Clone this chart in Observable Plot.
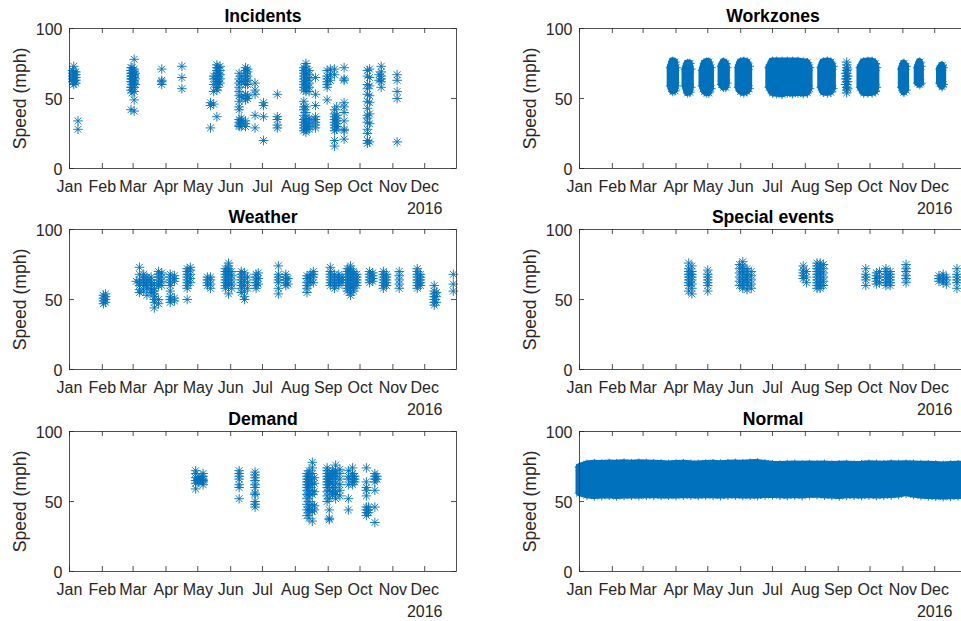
<!DOCTYPE html>
<html><head><meta charset="utf-8">
<script src="https://cdn.jsdelivr.net/npm/d3@7"></script>
<script src="https://cdn.jsdelivr.net/npm/@observablehq/plot@0.6"></script>
<style>
html,body{margin:0;padding:0;background:#fff;overflow:hidden}
#fig{position:relative;width:961px;height:621px;overflow:hidden;background:#fff}
#fig svg{position:absolute}
</style></head><body><div id="fig"></div>
<script>
// ---------- axis content ----------
const monthTicks = ["2016-01-01","2016-02-01","2016-03-01","2016-04-01","2016-05-01","2016-06-01","2016-07-01","2016-08-01","2016-09-01","2016-10-01","2016-11-01","2016-12-01"];
const monthLabels = ["Jan","Feb","Mar","Apr","May","Jun","Jul","Aug","Sep","Oct","Nov","Dec"];
const yTicks = [0, 50, 100];
const xDomain = ["2016-01-01", "2016-12-31"];
const yearLabel = "2016";
const yLabel = "Speed (mph)";
const panelTitles = ["Incidents", "Workzones", "Weather", "Special events", "Demand", "Normal"];

// ---------- Incidents (date columns with speeds) ----------
const incidentDates = [
 "2016-01-04","2016-01-05","2016-01-07","2016-01-09",
 "2016-02-28","2016-02-29","2016-03-02","2016-03-03",
 "2016-03-28","2016-04-16",
 "2016-05-13","2016-05-16","2016-05-19","2016-05-20","2016-05-22",
 "2016-06-09","2016-06-11","2016-06-15","2016-06-17","2016-06-24",
 "2016-07-02","2016-07-15",
 "2016-08-09","2016-08-11","2016-08-14","2016-08-20",
 "2016-08-31","2016-09-03","2016-09-07","2016-09-09","2016-09-16",
 "2016-10-08","2016-10-10","2016-10-19","2016-10-21","2016-11-05"];
const incidentSpeeds = [
 [62,64,66,68,70],
 [60,62,63,65,67,69,73],
 [61,63,65,67,69],
 [34,28],
 [56,58,62,64,66,68,70,72,42],
 [54,58,60,62,64,66,68,70,72],
 [78,55,49,41,58,61,63,65,67,69,71],
 [60,64,68],
 [71,63,62,60],
 [73,65,57],
 [29,47,45],
 [46,55,60,64,66],
 [37,56,58,60,62,64,66,68,70,72,74],
 [58,60,62,64,66,68,70,72],
 [61,64,67,70,73],
 [68,64,61,58,55,52,48,44,42,35,33,31,30],
 [30,32,34,36,51,62,66],
 [49,51,53,30,32,34,60,62,64,66,68,70,72],
 [60,63,66,69,71,50,52],
 [61,56,53,38,29],
 [47,45,37,20],
 [53,37,35,31,29],
 [27,29,31,33,35,38,42,44,48,56,58,60,62,64,66,68,70,72],
 [26,28,30,32,34,36,40,44,55,57,59,61,63,65,67,69,71,73,75],
 [28,30,32,34,36,55,58,61,64,67,70],
 [29,31,33,35,37,45,53,65],
 [70,66,64,62,60,58,49],
 [71,67,63],
 [16,20,27,29,31,33,35,37,39,42,71,67],
 [28,30,32,34,36,38,44],
 [72,64,63,47,44,40,34,28,27,21],
 [70,66,60,57,53,48,43,38,36,33,28,25,20,18],
 [71,65,59,52,47,39,32,19],
 [67,63],
 [73,69,66,64,62,58],
 [67,63,55,50,19]];

// ---------- Workzones: dense clusters (date, low, high, cluster) ----------
const workzoneDates = [
 "2016-03-27","2016-03-29","2016-03-31","2016-04-01",
 "2016-04-10","2016-04-12","2016-04-14","2016-04-15",
 "2016-04-26","2016-04-28","2016-04-30","2016-05-02","2016-05-04",
 "2016-05-14","2016-05-16","2016-05-18","2016-05-19",
 "2016-05-30","2016-06-01","2016-06-04","2016-06-07","2016-06-09",
 "2016-06-28","2016-07-01","2016-07-05","2016-07-10","2016-07-15","2016-07-20","2016-07-25","2016-07-30","2016-08-03","2016-08-05",
 "2016-08-16","2016-08-18","2016-08-22","2016-08-25","2016-08-27",
 "2016-09-22","2016-09-25","2016-09-29","2016-10-03","2016-10-06","2016-10-07",
 "2016-10-31","2016-11-02","2016-11-04",
 "2016-11-15","2016-11-17","2016-11-18",
 "2016-12-06","2016-12-08","2016-12-09"];
const workzoneLow = [59,55,55.5,59, 59,54,54.5,58, 59,55,54,54,57, 60,58,58,61, 58,55,54,55,57, 58,54,53.5,53,54,53.5,54,53.5,54,57, 58,54.5,54,54.5,57, 58,54,54,54,55,58, 58,54.5,56, 61,60,61, 61,58.5,60];
const workzoneHigh = [72,76.5,76,72, 71,75,75,71, 70,75,76,76,72, 73,76,75,72, 72,76,76.5,76,73, 72,76.5,76.5,76.5,76.5,76.5,76.5,76,75.5,72, 72,76,76.5,76,73, 72,76,76.5,76.5,75,72, 71,75,73, 72,76,73, 71,73.5,72];
const workzoneGroup = [1,1,1,1, 2,2,2,2, 3,3,3,3,3, 4,4,4,4, 5,5,5,5,5, 6,6,6,6,6,6,6,6,6,6, 7,7,7,7,7, 9,9,9,9,9,9, 10,10,10, 11,11,11, 12,12,12];
// Workzones: sparse column in early September
const workzoneColumnDates = ["2016-09-08", "2016-09-09", "2016-09-10"];
const workzoneColumnSpeeds = [[60,64,68], [54,56,58,60,62,64,66,68,70,72,74,76], [57,62,66,71]];

// ---------- Weather ----------
const weatherDates = [
 "2016-02-02","2016-02-04",
 "2016-03-04","2016-03-07","2016-03-11","2016-03-14","2016-03-18","2016-03-21","2016-03-25","2016-03-28",
 "2016-04-05","2016-04-09","2016-04-21","2016-04-24",
 "2016-05-10","2016-05-13","2016-05-27","2016-05-30","2016-06-02",
 "2016-06-11","2016-06-14","2016-06-17","2016-06-25","2016-06-27",
 "2016-07-16","2016-07-23","2016-07-25",
 "2016-08-12","2016-08-15","2016-08-18",
 "2016-09-03","2016-09-07","2016-09-11","2016-09-14",
 "2016-09-19","2016-09-22","2016-09-25","2016-09-28",
 "2016-10-10","2016-10-13","2016-10-23","2016-10-26","2016-11-07",
 "2016-11-24","2016-11-27","2016-12-10","2016-12-12","2016-12-28"];
const weatherSpeeds = [
 [47,49,51,53],[48,50,52,54],
 [63],[73,68,64,62,60,57,55],[56,60,62,64,66,68],[53,58,60,62,64,66],[55,57,60,62,64,66],[44,48,50,52,54,56,58,61],[47,50,60,62,64,66,68,70],[60,63,66,69],
 [48,50,52,56,60,62,64,66,68],[49,51,63,65,67],[50,58,60,62,64,66,68,70,72],[62,65,68,71,73],
 [60,62,64,66],[58,61,64,66],[58,60,62,64,66,68,70,72],[54,60,62,64,66,68,70,72,74,76],[58,61,64,67,70],
 [55,58,60,62,64,66,68,70],[50,52,56,60,63,66,69],[58,62,66],[58,60,62,64,66,68],[61,65,69],
 [54,58,62,64,66,68,74],[60,62,64,66,68],[61,65],
 [55,58,60,62,65,67],[62,64,66,68],[62,66,68,70],
 [60,62,64,66,68,70,73],[58,60,62,64,66,68],[60,62,64,66,68],[62,64,66],
 [56,58,60,62,64,66,68,70,72],[53,55,58,60,62,64,66,68,70,72,74],[56,58,60,62,64,66,68,70],[60,62,64,66,68],
 [62,64,66,68,70],[63,65,67,69],[58,60,62,64,66,68,70],[60,62,64,66,68],[58,61,64,67,70],
 [58,60,62,64,66,68,70,72],[60,62,64,66,68],[46,48,50,52,54,56,60],[48,52,55],[56,61,68]];

// ---------- Special events ----------
const specialDates = [
 "2016-04-13","2016-04-16","2016-05-01",
 "2016-05-31","2016-06-03","2016-06-07","2016-06-11",
 "2016-07-30","2016-08-02","2016-08-12","2016-08-15","2016-08-18",
 "2016-09-27","2016-10-07","2016-10-10","2016-10-16","2016-10-20","2016-11-04",
 "2016-12-05","2016-12-09","2016-12-12","2016-12-22"];
const specialSpeeds = [
 [56,60,62,64,66,68,70,72,76],[54,58,61,64,66,68,70,74],[56,60,62,64,66,68,71],
 [60,63,66,69,72,75],[58,60,62,64,66,68,70,72,74,77],[57,60,62,64,66,68,70,72],[58,61,64,67,70],
 [65,67,69,71,74],[62,66,70],[58,60,62,64,66,68,70,72,74,76],[58,60,62,64,66,68,70,72,74,76],[60,63,66,69,72,75],
 [60,64,66,68,72],[61,63,65,67,69],[62,66,70],[60,62,64,66,68,70,72],[60,62,64,66,68,70],[62,65,67,70,72,75],
 [63,65,67],[62,64,66,68],[61,64,66],[58,62,64,66,68,72]];

// ---------- Demand ----------
const demandDates = [
 "2016-04-29","2016-05-01","2016-05-02","2016-05-04","2016-05-06",
 "2016-06-09","2016-06-24",
 "2016-08-12","2016-08-14","2016-08-17","2016-08-19",
 "2016-08-31","2016-09-02","2016-09-05","2016-09-08","2016-09-12",
 "2016-09-20","2016-09-24","2016-09-26",
 "2016-10-07","2016-10-09","2016-10-15","2016-10-17"];
const demandSpeeds = [
 [59,63,65,67,70,72],[65,66],[64,65,66],[65,68],[62,64,65,66,68,70],
 [52,60,62,66,68,70,72],[46,48,50,55,56,60,62,65,67,69,71],
 [40,44,48,52,55,58,60,62,64,66,68,70],[38,42,44,46,50,54,56,60,62,64,66,68,70,72],[36,43,48,55,58,62,66,70,74,78],[44,47,57,63,67],
 [50,54,57,60,62,64,66,68,70,72,74],[37,38,44,52,58,62,64,66,68,70],[55,57,60,63,66,68,70,72],[52,55,57,60,63,66,68,70,72,76],[54,58,62,66,70,73],
 [44,52,62,66,68,72],[62,64,66,68,70,74],[64,66,68],
 [40,42,44,46,54,58,60,64,74],[42,44,46],[35,46,58,64,66,68,70],[66,68]];

// ---------- Normal (continuous band: weekly low / high) ----------
const normalDates = ["2016-01-01","2016-01-08","2016-01-15","2016-01-22","2016-01-29","2016-02-05","2016-02-12","2016-02-19","2016-02-26","2016-03-04","2016-03-11","2016-03-18","2016-03-25","2016-04-01","2016-04-08","2016-04-15","2016-04-22","2016-04-29","2016-05-06","2016-05-13","2016-05-20","2016-05-27","2016-06-03","2016-06-10","2016-06-17","2016-06-24","2016-07-01","2016-07-08","2016-07-15","2016-07-22","2016-07-29","2016-08-05","2016-08-12","2016-08-19","2016-08-26","2016-09-02","2016-09-09","2016-09-16","2016-09-23","2016-09-30","2016-10-07","2016-10-14","2016-10-21","2016-10-28","2016-11-04","2016-11-11","2016-11-18","2016-11-25","2016-12-02","2016-12-09","2016-12-16","2016-12-23","2016-12-30"];
const normalHigh = [74.5,76.5,77,76.8,77.2,77,77.4,77,77.3,77.2,77,76.8,76.5,76.8,77,76.6,76.5,76.8,77,76.7,77,77.2,77,77.3,77.5,76.8,76.2,76,76.3,76.5,76.2,76.4,76.3,76.5,76,76.2,76.4,76,76.2,76.6,76.5,76.3,76.7,76.4,76.6,76.5,76.3,76.2,76,75.8,76,76.2,76.4];
const normalLow = [56,54.5,54,54.2,54.5,54,54.3,54.5,54.2,54.4,54.6,54.3,54.5,54.2,54.6,54.5,54.3,54.6,54.4,54.2,54.5,54.6,54.3,54.5,54.2,54.6,54.8,54.5,54.3,54.6,54.2,54.8,55,54.5,54.3,54,54.4,54.5,54.2,54.6,54.3,54.5,54.6,55,56,55,54.3,54,53.8,53.5,53.8,54,54.2];

// ---------- drawing ----------
const BLUE = "#0072BD";
const AX = "#262626";
const FONT = "'Liberation Sans', Arial, Helvetica, sans-serif";
const asterisk = {
  draw(context, size) {
    const r = Math.sqrt(size / Math.PI);
    const d = r * Math.SQRT1_2;
    context.moveTo(-r, 0); context.lineTo(r, 0);
    context.moveTo(0, -r); context.lineTo(0, r);
    context.moveTo(-d, -d); context.lineTo(d, d);
    context.moveTo(-d, d); context.lineTo(d, -d);
  }
};
const columnsToPoints = (dates, speeds) =>
  dates.flatMap((d, i) => speeds[i].map(s => ({date: new Date(d), speed: s})));
const bandRows = (dates, low, high, group) =>
  dates.map((d, i) => ({date: new Date(d), low: low[i], high: high[i], group: group ? group[i] : 0}));

const panels = [
  {title: panelTitles[0], points: columnsToPoints(incidentDates, incidentSpeeds), band: []},
  {title: panelTitles[1], points: columnsToPoints(workzoneColumnDates, workzoneColumnSpeeds), band: bandRows(workzoneDates, workzoneLow, workzoneHigh, workzoneGroup)},
  {title: panelTitles[2], points: columnsToPoints(weatherDates, weatherSpeeds), band: []},
  {title: panelTitles[3], points: columnsToPoints(specialDates, specialSpeeds), band: []},
  {title: panelTitles[4], points: columnsToPoints(demandDates, demandSpeeds), band: []},
  {title: panelTitles[5], points: [], band: bandRows(normalDates, normalLow, normalHigh)}
];

const W = 480, H = 201, ML = 69, MR = 24, MT = 28, MB = 33;
const FW = W - ML - MR, FH = H - MT - MB;
const monthDates = monthTicks.map(d => new Date(d));
const rowTops = [0, 201, 403];
const colLefts = [0, 510];
const fig = document.getElementById("fig");

panels.forEach((p, k) => {
  const row = Math.floor(k / 2), col = k % 2;
  const dotOpts = {symbol: asterisk, r: 4.8, stroke: BLUE, fill: "none", strokeWidth: 0.9};
  const marks = [];
  if (p.band.length) {
    marks.push(Plot.areaY(p.band, {x: "date", y1: "low", y2: "high", z: "group", fill: BLUE, stroke: BLUE, strokeWidth: 7, strokeLinejoin: "round"}));
    marks.push(Plot.dot(p.band, {x: "date", y: "low", ...dotOpts}));
    marks.push(Plot.dot(p.band, {x: "date", y: "high", ...dotOpts}));
  }
  if (p.points.length) marks.push(Plot.dot(p.points, {x: "date", y: "speed", ...dotOpts}));
  marks.push(
    Plot.frame({stroke: AX, strokeWidth: 0.8}),
    Plot.tickX(monthDates, {x: d => d, insetTop: FH - 5, stroke: AX, strokeWidth: 0.8}),
    Plot.tickX(monthDates, {x: d => d, insetBottom: FH - 5, stroke: AX, strokeWidth: 0.8}),
    Plot.tickY(yTicks, {y: d => d, insetRight: FW - 5, stroke: AX, strokeWidth: 0.8}),
    Plot.tickY(yTicks, {y: d => d, insetLeft: FW - 5, stroke: AX, strokeWidth: 0.8}),
    Plot.text(monthDates, {x: d => d, text: (d, i) => monthLabels[i], frameAnchor: "bottom", textAnchor: "middle", lineAnchor: "bottom", dy: 23, fill: AX, fontSize: 16}),
    Plot.text(yTicks, {y: d => d, text: d => String(d), frameAnchor: "left", textAnchor: "end", lineAnchor: "middle", dx: -7, dy: 1.5, fill: AX, fontSize: 16}),
    Plot.text([yearLabel], {text: d => d, frameAnchor: "bottom-right", textAnchor: "end", lineAnchor: "bottom", dx: -14, dy: 45, fill: AX, fontSize: 16}),
    Plot.text([yLabel], {text: d => d, frameAnchor: "left", textAnchor: "middle", rotate: -90, lineAnchor: "middle", dx: -49, fill: AX, fontSize: 17.6}),
    Plot.text([p.title], {text: d => d, frameAnchor: "top", textAnchor: "middle", lineAnchor: "bottom", dy: -7, fill: "#000", fontSize: 17.6, fontWeight: "bold"})
  );
  const svg = Plot.plot({
    width: W, height: H,
    marginLeft: ML, marginRight: MR, marginTop: MT, marginBottom: MB,
    x: {type: "utc", domain: xDomain.map(d => new Date(d)), axis: null},
    y: {domain: [0, 100], axis: null},
    style: {background: "transparent", overflow: "visible", maxWidth: "none", fontFamily: FONT},
    marks
  });
  svg.style.left = colLefts[col] + "px";
  svg.style.top = rowTops[row] + "px";
  fig.appendChild(svg);
});
</script>
</body></html>
